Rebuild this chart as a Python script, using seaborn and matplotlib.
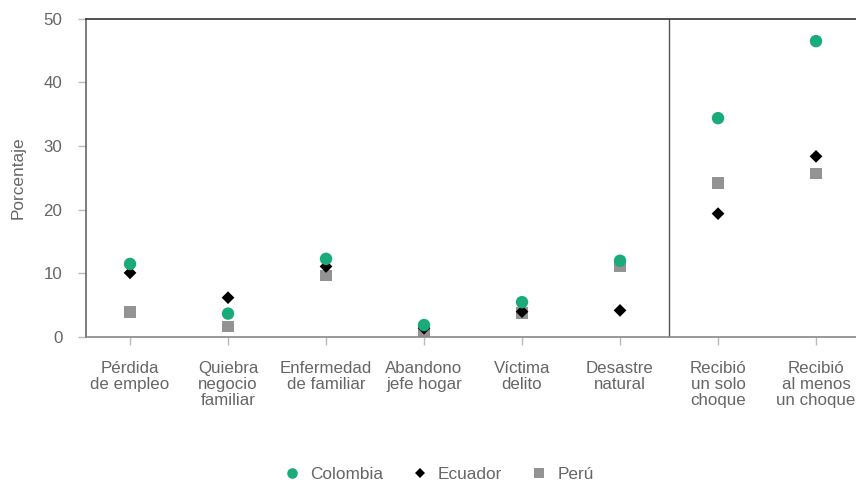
import seaborn as sns
import matplotlib.pyplot as plt
import pandas as pd

# Datos
categorias = ['Pérdida\nde empleo', 'Quiebra\nnegocio\nfamiliar', 'Enfermedad\nde familiar',
              'Abandono\njefe hogar', 'Víctima\ndelito', 'Desastre\nnatural',
              'Recibió\nun solo\nchoque', 'Recibió\nal menos\nun choque']
colombia = [11.5, 3.7, 12.3, 1.9, 5.5, 12.0, 34.4, 46.5]
ecuador = [10.1, 6.2, 11.1, 1.4, 4.0, 4.2, 19.4, 28.4]
peru = [3.9, 1.7, 9.7, 0.8, 3.8, 11.1, 24.2, 25.7]

paises = ['Colombia', 'Ecuador', 'Perú']
colores = {'Colombia': '#1aab7a', 'Ecuador': '#000000', 'Perú': '#939396'}
marcas = {'Colombia': 'o', 'Ecuador': 'D', 'Perú': 's'}
tamanos = {'Colombia': 80, 'Ecuador': 42, 'Perú': 70}

# Tabla larga (Perú primero para que Colombia quede encima)
filas = []
for pais, vals in [('Perú', peru), ('Ecuador', ecuador), ('Colombia', colombia)]:
    for i, v in enumerate(vals):
        filas.append({'pos': i, 'valor': v, 'pais': pais})
df = pd.DataFrame(filas)

sns.set_style('white')
plt.rcParams['font.family'] = ['Liberation Sans', 'DejaVu Sans']

fig = plt.figure(figsize=(8.56, 4.83), dpi=100)
ax = fig.add_axes([0.1005, 0.302, 0.8995, 0.659])

sns.scatterplot(data=df, x='pos', y='valor', hue='pais', style='pais', size='pais',
                hue_order=paises, style_order=paises, size_order=paises,
                palette=colores, markers=marcas, sizes=tamanos, linewidth=0, ax=ax)

ax.axvline(5.5, color='#555555', linewidth=1)

ax.set_xlim(-0.449, 7.408)
ax.set_ylim(0, 50)
ax.set_xticks(range(len(categorias)))
ax.set_xticklabels(categorias, fontsize=12.2, color='#666666', linespacing=1.1)
ax.set_yticks([0, 10, 20, 30, 40, 50])
ax.tick_params(axis='both', colors='#bbbbbb', labelcolor='#666666', labelsize=12.2,
               length=6, width=1, direction='out', bottom=True, left=True)
ax.tick_params(axis='x', pad=11)
ax.tick_params(axis='y', pad=11)
ax.set_xlabel('')
ax.set_ylabel('Porcentaje', fontsize=12.4, color='#666666')
ax.yaxis.set_label_coords(-0.079, 0.5)

ax.spines['right'].set_visible(False)
ax.spines['top'].set_color('#333333')
ax.spines['left'].set_color('#666666')
ax.spines['bottom'].set_color('#888888')
for s in ['top', 'left', 'bottom']:
    ax.spines[s].set_linewidth(1.2)

leg = ax.legend(loc='center', bbox_to_anchor=(0.507, 0.018), bbox_transform=fig.transFigure,
                ncol=3, frameon=False, fontsize=12.4, handletextpad=0.05, columnspacing=1.15,
                markerscale=0.85)
for t in leg.get_texts():
    t.set_color('#666666')

plt.savefig('out.png', dpi=100)
